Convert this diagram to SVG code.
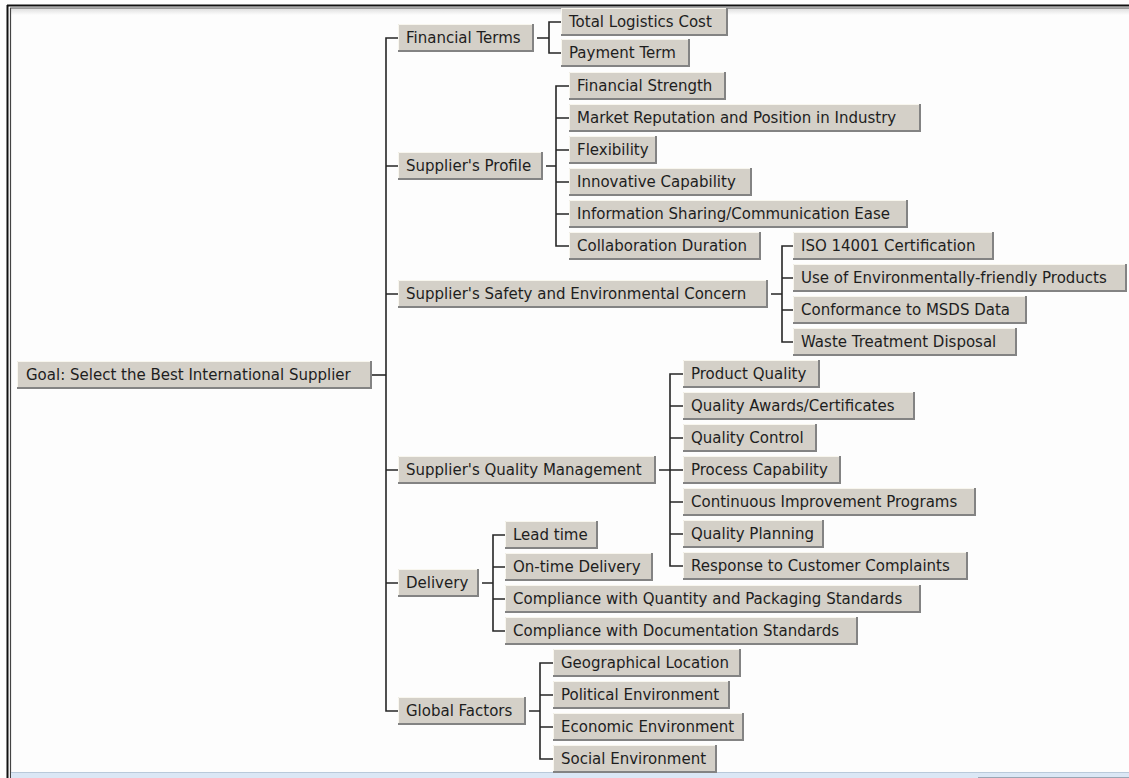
<svg xmlns="http://www.w3.org/2000/svg" width="1129" height="778" viewBox="0 0 1129 778">
<defs>
<linearGradient id="topband" x1="0" y1="0" x2="0" y2="1">
<stop offset="0" stop-color="#dcdcdc"/>
<stop offset="1" stop-color="#fdfdfd"/>
</linearGradient>
</defs>
<style>
.sh{fill:#838383}
.face{fill:#d4d0c8}
.hl{fill:none;stroke:#f8f6ee;stroke-width:1}
.t{font-family:"DejaVu Sans",Verdana,sans-serif;font-size:15px;fill:#1e1e1e}
.c{fill:none;stroke:#262626;stroke-width:1.6}
</style>
<rect x="0" y="0" width="1129" height="778" fill="#fdfdfd"/>
<g id="frame">
<rect x="11" y="8" width="1118" height="7" fill="url(#topband)"/>
<path d="M7,5.5 H1129" stroke="#111" stroke-width="2" fill="none"/>
<path d="M10,8 H1129" stroke="#555" stroke-width="1.2" fill="none"/>
<path d="M7.5,5 V778" stroke="#111" stroke-width="2" fill="none"/>
<path d="M10.5,8 V778" stroke="#444" stroke-width="1.2" fill="none"/>
<rect x="11" y="772" width="1118" height="6" fill="#dbe7f5"/>
<path d="M11,772.5 H1129" stroke="#b9c9da" stroke-width="1" fill="none"/>
<path d="M978,777.5 H1129" stroke="#9aa6b4" stroke-width="1" fill="none"/>
</g>
<g id="connectors">
<path class="c" d="M372,375 H386"/>
<path class="c" d="M398,38 H386 V711 H398 M386,166 H398 M386,294 H398 M386,470 H398 M386,583 H398"/>
<path class="c" d="M537,38 H549 M561,22 H549 V53 H561"/>
<path class="c" d="M546,166 H556 M569,86 H556 V246 H569 M556,118 H569 M556,150 H569 M556,182 H569 M556,214 H569"/>
<path class="c" d="M771,294 H782 M793,246 H782 V342 H793 M782,278 H793 M782,310 H793"/>
<path class="c" d="M659,470 H670 M683,374 H670 V566 H683 M670,406 H683 M670,438 H683 M670,470 H683 M670,502 H683 M670,534 H683"/>
<path class="c" d="M482,583 H493 M505,535 H493 V631 H505 M493,567 H505 M493,599 H505"/>
<path class="c" d="M529,711 H540 M553,663 H540 V759 H553 M540,695 H553 M540,727 H553"/>
</g>
<g id="goal"><rect class="sh" x="17" y="361" width="355" height="28"/><rect class="face" x="17" y="361" width="353" height="26"/><path class="hl" d="M17.5,387 V361.5 H370"/><text class="t" x="26" y="380">Goal: Select the Best International Supplier</text></g>

<g id="financial-terms"><rect class="sh" x="398" y="24" width="136" height="28"/><rect class="face" x="398" y="24" width="134" height="26"/><path class="hl" d="M398.5,50 V24.5 H532"/><text class="t" x="406" y="43">Financial Terms</text></g>
<g id="suppliers-profile"><rect class="sh" x="398" y="152" width="145" height="28"/><rect class="face" x="398" y="152" width="143" height="26"/><path class="hl" d="M398.5,178 V152.5 H541"/><text class="t" x="406" y="171">Supplier's Profile</text></g>
<g id="safety-environment"><rect class="sh" x="398" y="280" width="370" height="28"/><rect class="face" x="398" y="280" width="368" height="26"/><path class="hl" d="M398.5,306 V280.5 H766"/><text class="t" x="406" y="299">Supplier's Safety and Environmental Concern</text></g>
<g id="quality-management"><rect class="sh" x="398" y="456" width="258" height="28"/><rect class="face" x="398" y="456" width="256" height="26"/><path class="hl" d="M398.5,482 V456.5 H654"/><text class="t" x="406" y="475">Supplier's Quality Management</text></g>
<g id="delivery"><rect class="sh" x="398" y="569" width="81" height="28"/><rect class="face" x="398" y="569" width="79" height="26"/><path class="hl" d="M398.5,595 V569.5 H477"/><text class="t" x="406" y="588">Delivery</text></g>
<g id="global-factors"><rect class="sh" x="398" y="697" width="128" height="28"/><rect class="face" x="398" y="697" width="126" height="26"/><path class="hl" d="M398.5,723 V697.5 H524"/><text class="t" x="406" y="716">Global Factors</text></g>

<g id="total-logistics-cost"><rect class="sh" x="561" y="8" width="167" height="28"/><rect class="face" x="561" y="8" width="165" height="26"/><path class="hl" d="M561.5,34 V8.5 H726"/><text class="t" x="569" y="27">Total Logistics Cost</text></g>
<g id="payment-term"><rect class="sh" x="561" y="39" width="129" height="28"/><rect class="face" x="561" y="39" width="127" height="26"/><path class="hl" d="M561.5,65 V39.5 H688"/><text class="t" x="569" y="58">Payment Term</text></g>

<g id="financial-strength"><rect class="sh" x="569" y="72" width="157" height="28"/><rect class="face" x="569" y="72" width="155" height="26"/><path class="hl" d="M569.5,98 V72.5 H724"/><text class="t" x="577" y="91">Financial Strength</text></g>
<g id="market-reputation"><rect class="sh" x="569" y="104" width="352" height="28"/><rect class="face" x="569" y="104" width="350" height="26"/><path class="hl" d="M569.5,130 V104.5 H919"/><text class="t" x="577" y="123">Market Reputation and Position in Industry</text></g>
<g id="flexibility"><rect class="sh" x="569" y="136" width="88" height="28"/><rect class="face" x="569" y="136" width="86" height="26"/><path class="hl" d="M569.5,162 V136.5 H655"/><text class="t" x="577" y="155">Flexibility</text></g>
<g id="innovative-capability"><rect class="sh" x="569" y="168" width="183" height="28"/><rect class="face" x="569" y="168" width="181" height="26"/><path class="hl" d="M569.5,194 V168.5 H750"/><text class="t" x="577" y="187">Innovative Capability</text></g>
<g id="information-sharing"><rect class="sh" x="569" y="200" width="339" height="28"/><rect class="face" x="569" y="200" width="337" height="26"/><path class="hl" d="M569.5,226 V200.5 H906"/><text class="t" x="577" y="219">Information Sharing/Communication Ease</text></g>
<g id="collaboration-duration"><rect class="sh" x="569" y="232" width="192" height="28"/><rect class="face" x="569" y="232" width="190" height="26"/><path class="hl" d="M569.5,258 V232.5 H759"/><text class="t" x="577" y="251">Collaboration Duration</text></g>

<g id="iso-14001"><rect class="sh" x="793" y="232" width="201" height="28"/><rect class="face" x="793" y="232" width="199" height="26"/><path class="hl" d="M793.5,258 V232.5 H992"/><text class="t" x="801" y="251">ISO 14001 Certification</text></g>
<g id="env-friendly-products"><rect class="sh" x="793" y="264" width="334" height="28"/><rect class="face" x="793" y="264" width="332" height="26"/><path class="hl" d="M793.5,290 V264.5 H1125"/><text class="t" x="801" y="283">Use of Environmentally-friendly Products</text></g>
<g id="msds-data"><rect class="sh" x="793" y="296" width="234" height="28"/><rect class="face" x="793" y="296" width="232" height="26"/><path class="hl" d="M793.5,322 V296.5 H1025"/><text class="t" x="801" y="315">Conformance to MSDS Data</text></g>
<g id="waste-treatment"><rect class="sh" x="793" y="328" width="224" height="28"/><rect class="face" x="793" y="328" width="222" height="26"/><path class="hl" d="M793.5,354 V328.5 H1015"/><text class="t" x="801" y="347">Waste Treatment Disposal</text></g>

<g id="product-quality"><rect class="sh" x="683" y="360" width="137" height="28"/><rect class="face" x="683" y="360" width="135" height="26"/><path class="hl" d="M683.5,386 V360.5 H818"/><text class="t" x="691" y="379">Product Quality</text></g>
<g id="quality-awards"><rect class="sh" x="683" y="392" width="232" height="28"/><rect class="face" x="683" y="392" width="230" height="26"/><path class="hl" d="M683.5,418 V392.5 H913"/><text class="t" x="691" y="411">Quality Awards/Certificates</text></g>
<g id="quality-control"><rect class="sh" x="683" y="424" width="134" height="28"/><rect class="face" x="683" y="424" width="132" height="26"/><path class="hl" d="M683.5,450 V424.5 H815"/><text class="t" x="691" y="443">Quality Control</text></g>
<g id="process-capability"><rect class="sh" x="683" y="456" width="158" height="28"/><rect class="face" x="683" y="456" width="156" height="26"/><path class="hl" d="M683.5,482 V456.5 H839"/><text class="t" x="691" y="475">Process Capability</text></g>
<g id="continuous-improvement"><rect class="sh" x="683" y="488" width="293" height="28"/><rect class="face" x="683" y="488" width="291" height="26"/><path class="hl" d="M683.5,514 V488.5 H974"/><text class="t" x="691" y="507">Continuous Improvement Programs</text></g>
<g id="quality-planning"><rect class="sh" x="683" y="520" width="141" height="28"/><rect class="face" x="683" y="520" width="139" height="26"/><path class="hl" d="M683.5,546 V520.5 H822"/><text class="t" x="691" y="539">Quality Planning</text></g>
<g id="customer-complaints"><rect class="sh" x="683" y="552" width="285" height="28"/><rect class="face" x="683" y="552" width="283" height="26"/><path class="hl" d="M683.5,578 V552.5 H966"/><text class="t" x="691" y="571">Response to Customer Complaints</text></g>

<g id="lead-time"><rect class="sh" x="505" y="521" width="93" height="28"/><rect class="face" x="505" y="521" width="91" height="26"/><path class="hl" d="M505.5,547 V521.5 H596"/><text class="t" x="513" y="540">Lead time</text></g>
<g id="on-time-delivery"><rect class="sh" x="505" y="553" width="148" height="28"/><rect class="face" x="505" y="553" width="146" height="26"/><path class="hl" d="M505.5,579 V553.5 H651"/><text class="t" x="513" y="572">On-time Delivery</text></g>
<g id="quantity-packaging"><rect class="sh" x="505" y="585" width="416" height="28"/><rect class="face" x="505" y="585" width="414" height="26"/><path class="hl" d="M505.5,611 V585.5 H919"/><text class="t" x="513" y="604">Compliance with Quantity and Packaging Standards</text></g>
<g id="documentation-standards"><rect class="sh" x="505" y="617" width="353" height="28"/><rect class="face" x="505" y="617" width="351" height="26"/><path class="hl" d="M505.5,643 V617.5 H856"/><text class="t" x="513" y="636">Compliance with Documentation Standards</text></g>

<g id="geographical-location"><rect class="sh" x="553" y="649" width="188" height="28"/><rect class="face" x="553" y="649" width="186" height="26"/><path class="hl" d="M553.5,675 V649.5 H739"/><text class="t" x="561" y="668">Geographical Location</text></g>
<g id="political-environment"><rect class="sh" x="553" y="681" width="177" height="28"/><rect class="face" x="553" y="681" width="175" height="26"/><path class="hl" d="M553.5,707 V681.5 H728"/><text class="t" x="561" y="700">Political Environment</text></g>
<g id="economic-environment"><rect class="sh" x="553" y="713" width="191" height="28"/><rect class="face" x="553" y="713" width="189" height="26"/><path class="hl" d="M553.5,739 V713.5 H742"/><text class="t" x="561" y="732">Economic Environment</text></g>
<g id="social-environment"><rect class="sh" x="553" y="745" width="164" height="28"/><rect class="face" x="553" y="745" width="162" height="26"/><path class="hl" d="M553.5,771 V745.5 H715"/><text class="t" x="561" y="764">Social Environment</text></g>
</svg>
